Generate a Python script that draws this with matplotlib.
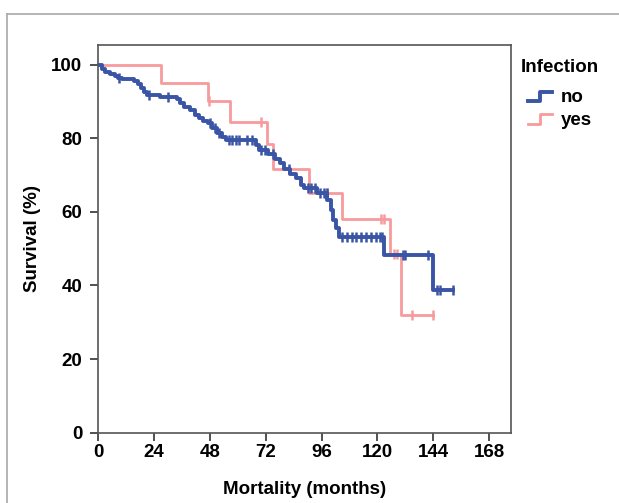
import numpy as np
import matplotlib.pyplot as plt
from matplotlib.lines import Line2D
from matplotlib.legend_handler import HandlerBase

plt.rcParams['font.family'] = ['Liberation Sans', 'DejaVu Sans']
plt.rcParams['font.weight'] = 'bold'

# Kaplan-Meier steps (months, survival %)
no_times = [0, 1.5, 3, 5, 7, 8.5, 10, 15.5, 17, 18.5, 19.5, 21, 26.5, 34, 35, 37, 39.5,
            41.5, 43.5, 45, 47, 49, 51, 53, 55, 68, 69, 73, 76, 78, 80, 82.5, 85, 87,
            88.5, 94, 98.5, 100, 101, 102, 103.5, 122.8, 144]
no_surv = [100, 98.8, 98.0, 97.4, 97.0, 96.4, 96.0, 95.4, 94.6, 93.6, 92.6, 91.8, 91.2,
           90.6, 89.6, 88.4, 87.6, 86.4, 85.4, 84.6, 84.0, 82.8, 81.4, 80.2, 79.4, 78.2,
           76.8, 75.6, 74.4, 73.2, 71.6, 70.4, 69.1, 67.4, 66.4, 65.0, 63.2, 60.5, 57.8,
           55.5, 53.2, 48.3, 38.8]
no_end = 152.6
no_censor = [9, 22, 30, 48, 50, 52, 56, 57.5, 59, 60.5, 64, 66, 70, 71.5, 75, 82, 90,
             91.5, 93, 95.5, 97, 98.3, 104.6, 106.8, 109, 111, 113, 115.3, 117.4, 119.5,
             121, 122, 131, 132, 141.7, 145.6, 147, 152.6]

yes_times = [0, 27, 47, 56.6, 72.5, 75, 90.7, 104.6, 125.4, 130]
yes_surv = [100, 95, 90, 84.5, 78.5, 71.6, 65.2, 58, 48.5, 32]
yes_end = 143.8
yes_censor = [47.7, 70, 98.3, 121.5, 122.9, 127, 128.5, 134.9, 143.8]

groups = ['no', 'yes']
colors = {'no': '#3a54a6', 'yes': '#f79a9c'}
widths = {'no': 2.8, 'yes': 2.0}
series = {
    'no': (no_times, no_surv, no_end, no_censor),
    'yes': (yes_times, yes_surv, yes_end, yes_censor),
}
FS = 13.5


class StepHandler(HandlerBase):
    # legend key shaped like a little survival step
    def create_artists(self, legend, orig_handle, xdescent, ydescent, width, height,
                       fontsize, trans):
        xs = np.array([0.0, 0.5, 0.5, 1.0]) * width - xdescent
        ys = np.array([0.1, 0.1, 0.8, 0.8]) * height - ydescent
        ln = Line2D(xs, ys, color=orig_handle.get_color(),
                    linewidth=orig_handle.get_linewidth(), transform=trans)
        return [ln]


fig = plt.figure(figsize=(6.19, 5.03), dpi=100)
ax = fig.add_axes([0.1588, 0.1398, 0.8250 - 0.1588, 0.9105 - 0.1398])

handles = []
for g in groups:
    t, s, end, cens = series[g]
    tt = list(t) + [end]
    ss = list(s) + [s[-1]]
    line, = ax.step(tt, ss, where='post', color=colors[g], linewidth=widths[g],
                    label=g, zorder=3 if g == 'no' else 2)
    idx = np.searchsorted(t, cens, side='right') - 1
    cy = np.array(s)[idx]
    ax.plot(cens, cy, linestyle='none', marker='|', markersize=6.5,
            markeredgewidth=1.8, color=colors[g], zorder=line.get_zorder())
    handles.append(line)

ax.set_xlim(0, 177.3)
ax.set_ylim(0, 105.3)
ax.set_xticks(np.arange(0, 169, 24))
ax.set_yticks(np.arange(0, 101, 20))
ax.tick_params(direction='out', length=5.5, width=1.2, colors='#333333',
               labelsize=FS, labelcolor='black')
ax.tick_params(axis='y', pad=6)
ax.tick_params(axis='x', pad=3)
for lbl in ax.get_xticklabels() + ax.get_yticklabels():
    lbl.set_fontweight('bold')
for sp in ax.spines.values():
    sp.set_color('#555555')
    sp.set_linewidth(1.2)

ax.set_xlabel('Mortality (months)', fontsize=FS, fontweight='bold', labelpad=14)
ax.set_ylabel('Survival (%)', fontsize=FS, fontweight='bold', labelpad=7)

# legend title sits apart from the entries, as in the original
fig.text(521 / 619, 1 - 67 / 503, 'Infection', fontsize=FS, fontweight='bold',
         ha='left', va='center')
leg = fig.legend(handles, groups, loc='upper left',
                 bbox_to_anchor=(528 / 619, 1 - 89 / 503), frameon=False,
                 handler_map={Line2D: StepHandler()}, handlelength=1.3,
                 handletextpad=0.45, labelspacing=0.3, fontsize=FS,
                 borderpad=0, borderaxespad=0)

# outer frame of the output viewer
frame_col = '#a8a8a8'
fig.add_artist(Line2D([7 / 619, 1.0], [1 - 14 / 503, 1 - 14 / 503], color=frame_col,
                      linewidth=1.2, transform=fig.transFigure))
fig.add_artist(Line2D([7 / 619, 7 / 619], [0, 1 - 14 / 503], color=frame_col,
                      linewidth=1.2, transform=fig.transFigure))

fig.savefig('out.png', dpi=100)
